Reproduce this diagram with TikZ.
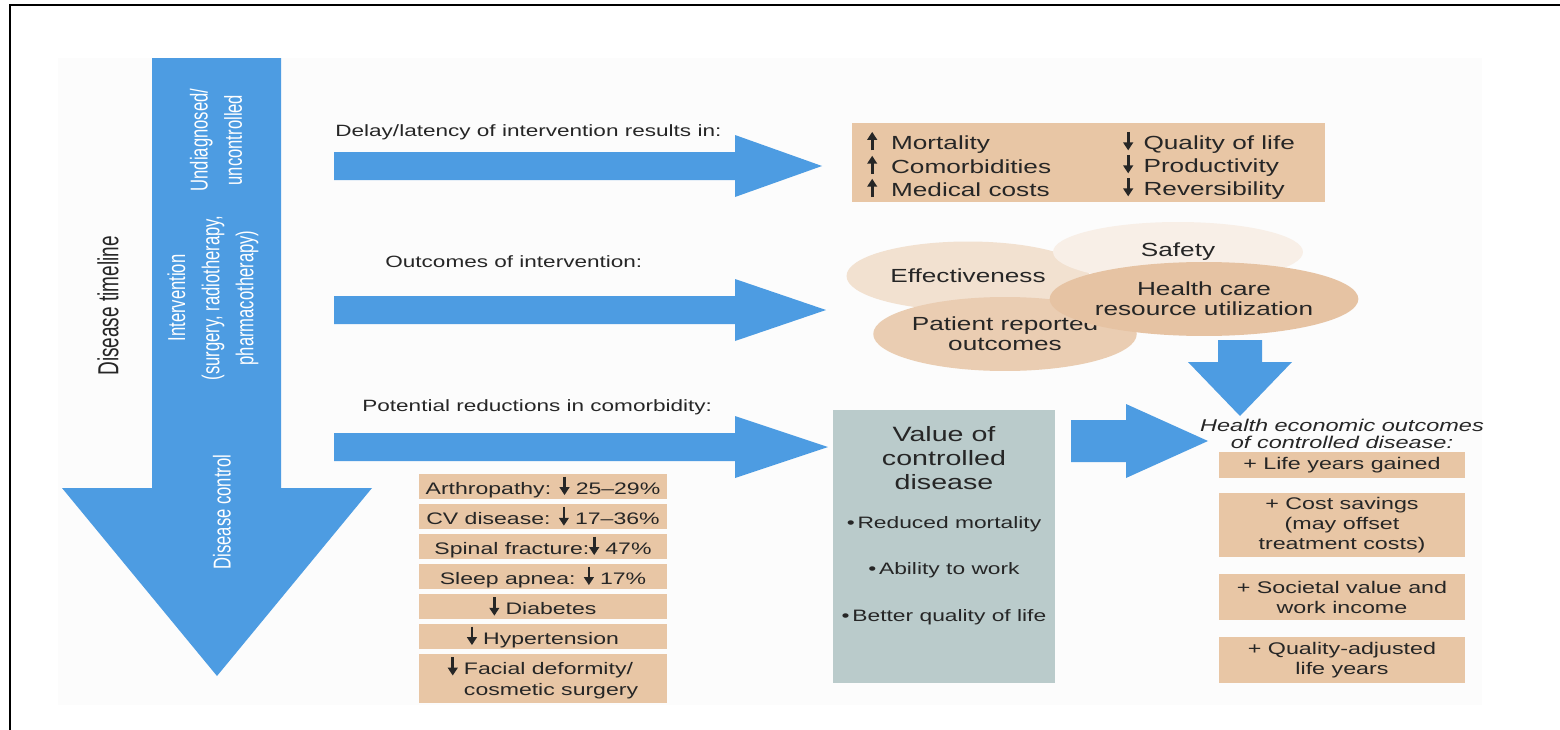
\documentclass[tikz,border=0pt]{standalone}
\usepackage{fontspec}
\setmainfont{Liberation Sans}
\newfontfamily\lblfont[FakeStretch=1.38]{Liberation Sans}
\newfontfamily\rotfont[FakeStretch=0.68]{Liberation Sans}
\newfontfamily\timefont[FakeStretch=0.655]{Liberation Sans}
\usetikzlibrary{positioning, arrows.meta, shapes.geometric}

\definecolor{arrowblue}{RGB}{77,156,226}
\definecolor{tanfill}{RGB}{232,198,165}
\definecolor{valuegray}{RGB}{186,203,203}
\definecolor{ovalA}{RGB}{242,225,208}
\definecolor{ovalB}{RGB}{248,239,231}
\definecolor{ovalC}{RGB}{234,205,178}
\definecolor{ovalD}{RGB}{230,195,163}
\definecolor{txtdark}{RGB}{38,38,38}

% small arrows used inside the texts
\newcommand{\upa}{\tikz[baseline=-1pt]\draw[line width=1.5pt,-{Triangle[length=4.5pt,width=5.5pt]}] (0pt,-1.5pt) -- (0pt,9pt);}
\newcommand{\dn}{\tikz[baseline=-1pt]\draw[line width=1.5pt,-{Triangle[length=4.5pt,width=5.5pt]}] (0pt,9pt) -- (0pt,-1.5pt);}
\newcommand{\fs}[2]{\fontsize{#1}{#2}\selectfont}

\begin{document}
\begin{tikzpicture}[x=0.02cm, y=-0.02cm,
    txt/.style={text=txtdark, inner sep=0pt},
    lbl/.style={txt, anchor=west, font=\lblfont\fs{9.3}{11}},
    tanbox/.style={fill=tanfill, txt, align=center, font=\lblfont\fs{9.6}{11.4}},
    oval/.style={ellipse, inner sep=0pt, txt, align=center, font=\lblfont\fs{10.8}{11.6}},
    vert/.style={rotate=90, inner sep=0pt, align=center, text=white, font=\rotfont\fs{13.9}{19.4}}]
    \useasboundingbox (0,0) rectangle (1560,730);
    \fill[black!1] (58,58) rectangle (1482,705);
    \draw[line width=1.4pt] (10,730) -- (10,5) -- (1560,5);

    % disease timeline arrow
    \fill[arrowblue] (152,58) -- (281,58) -- (281,488) -- (372,488) -- (217,676) -- (62,488) -- (152,488) -- cycle;
    \node[txt, rotate=90, font=\timefont\fs{16.5}{18}] (timeline) at (108,306) {Disease timeline};
    \node[vert] (undiag) at (216,140) {Undiagnosed/\\uncontrolled};
    \node[vert] (interv) at (213,298) {Intervention\\(surgery, radiotherapy,\\pharmacotherapy)};
    \node[vert] (control) at (222,512) {Disease control};

    % the three horizontal arrows
    \foreach \yc/\tip in {166/822, 310/826, 447/828}
    {
    \fill[arrowblue] (334,{\yc-14}) -- (735,{\yc-14}) -- (735,{\yc-31}) -- (\tip,\yc) -- (735,{\yc+31}) -- (735,{\yc+14}) -- (334,{\yc+14}) -- cycle;
    }
    \node[lbl] (delay) at (335,132) {Delay/latency of intervention results in:};
    \node[lbl] (outc) at (385,262) {Outcomes of intervention:};
    \node[lbl] (potent) at (362,407) {Potential reductions in comorbidity:};

    % consequences of delay
    \node[tanbox, minimum width=9.46cm, minimum height=1.58cm] (effects) at (1088.5,162.5) {};
    \foreach \row/\a/\b in {0/Mortality/Quality of life, 1/Comorbidities/Productivity, 2/Medical costs/Reversibility}
    {
    \node[txt, anchor=west, font=\lblfont\fs{10.8}{12}] (inc\row) at (867,{142+23*\row}) {\upa\hspace{8pt}\a};
    \node[txt, anchor=west, font=\lblfont\fs{10.8}{12}] (dec\row) at (1123,{142+23*\row}) {\dn\hspace{6pt}\b};
    }

    % outcomes of intervention
    \node[oval, fill=ovalA, minimum width=4.86cm, minimum height=1.38cm] (effect) at (968,276) {Effectiveness};
    \node[oval, fill=ovalB, minimum width=5cm, minimum height=1.2cm] (safety) at (1178,252) {Safety};
    \node[oval, fill=ovalC, minimum width=5cm, minimum height=1.48cm] (patient) at (1005,334) {Patient reported\\outcomes};
    \node[oval, fill=ovalD, minimum width=4.76cm, minimum height=1.48cm] (health) at (1204,299) {Health care\\resource utilization};
    \fill[arrowblue] (1218,340) -- (1262,340) -- (1262,362) -- (1292,362) -- (1240,416) -- (1188,362) -- (1218,362) -- cycle;

    % value of controlled disease
    \node[fill=valuegray, minimum width=4.44cm, minimum height=5.46cm] (value) at (944,546.5) {};
    \node[txt, align=center, font=\lblfont\fs{11.8}{13.7}] (valtitle) at (944,458) {Value of\\controlled\\disease};
    \foreach \yb/\item in {524/Reduced mortality, 570/Ability to work, 617/Better quality of life}
    {
    \node[txt, font=\lblfont\fs{9.4}{11}] at (944,\yb) {•\,\item};
    }
    \fill[arrowblue] (1071,420) -- (1126,420) -- (1126,404) -- (1208,441) -- (1126,478) -- (1126,462) -- (1071,462) -- cycle;

    % health economic outcomes
    \node[txt, align=center, font=\lblfont\itshape\fs{9.7}{10}] (heo) at (1342,434) {Health economic outcomes\\of controlled disease:};
    \node[tanbox, minimum width=4.92cm, minimum height=0.52cm] (life) at (1342,465) {+ Life years gained};
    \node[tanbox, minimum width=4.92cm, minimum height=1.28cm] (cost) at (1342,525) {+ Cost savings\\(may offset\\treatment costs)};
    \node[tanbox, minimum width=4.92cm, minimum height=0.92cm] (soc) at (1342,597) {+ Societal value and\\work income};
    \node[tanbox, minimum width=4.92cm, minimum height=0.92cm] (qaly) at (1342,660) {+ Quality-adjusted\\life years};

    % reductions in comorbidity
    \foreach \i/\item in {1/{Arthropathy: \dn\ 25–29\%}, 2/{CV disease: \dn\ 17–36\%}, 3/{Spinal fracture:\dn\ 47\%}, 4/{Sleep apnea: \dn\ 17\%}, 5/{\dn\ Diabetes}, 6/{\dn\ Hypertension}}
    {
    \node[tanbox, font=\lblfont\fs{9.5}{11}, minimum width=4.96cm, minimum height=0.5cm] (com\i) at (543,{456.5+30*\i}) {\item};
    }
    \node[tanbox, font=\lblfont\fs{9.5}{11.6}, minimum width=4.96cm, minimum height=0.98cm] (com7) at (543,678.5) {\dn\ \begin{tabular}[t]{@{}l@{}}Facial deformity/\\cosmetic surgery\end{tabular}};
\end{tikzpicture}
\end{document}
